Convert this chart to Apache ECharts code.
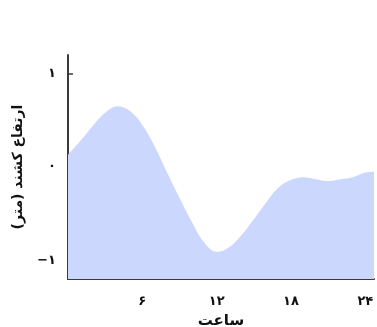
<!DOCTYPE html>
<html><head><meta charset="utf-8">
<script src="https://cdn.jsdelivr.net/npm/echarts@6/dist/echarts.min.js"></script>
<style>html,body{margin:0;padding:0;background:#fff}#c{width:377px;height:327px}</style>
</head><body><div id="c"></div>
<script>
const hours = [0,1,2,3,4,5,6,7,8,9,10,11,12,13,14,15,16,17,18,19,20,21,22,23,24,24.7];
const tideHeight = [0.13,0.28,0.44,0.58,0.65,0.60,0.45,0.22,-0.06,-0.33,-0.59,-0.81,-0.91,-0.86,-0.73,-0.56,-0.38,-0.22,-0.14,-0.11,-0.13,-0.15,-0.13,-0.11,-0.06,-0.05];
const xTicks = [6,12,18,24];
const yTicks = [-1,0,1];
const xName = 'ساعت';
const yName = 'ارتفاع کشند (متر)';

const fa = n => String(n).replace(/-/g,'\u2212').replace(/\d/g, d => '۰۱۲۳۴۵۶۷۸۹'[+d]);
const font = 'DejaVu Sans';
const chart = echarts.init(document.getElementById('c'));
chart.setOption({
  animation:false,
  grid:{left:68,right:3,top:55,bottom:48,containLabel:false,outerBoundsMode:'none'},
  xAxis:{type:'value',min:0,max:24.7,
    axisLine:{onZero:false,lineStyle:{color:'#3a3a3a',width:2}},
    axisTick:{show:false},
    splitLine:{show:false},
    axisLabel:{customValues:xTicks,formatter:v=>fa(v),color:'#111',fontSize:13,fontWeight:'bold',fontFamily:font,margin:16},
    name:xName,nameLocation:'middle',nameGap:35,nameTextStyle:{color:'#111',fontSize:15,fontWeight:'bold',fontFamily:font}},
  yAxis:{type:'value',min:-1.2,max:1.2,
    axisLine:{show:true,onZero:false,lineStyle:{color:'#3a3a3a',width:2}},
    axisTick:{show:true,inside:true,length:5,customValues:yTicks,lineStyle:{color:'#3a3a3a',width:1.5}},
    splitLine:{show:false},
    axisLabel:{customValues:yTicks,formatter:v=>fa(v),color:'#111',fontSize:13,fontWeight:'bold',fontFamily:font,margin:12},
    name:yName,nameLocation:'middle',nameGap:43,nameRotate:90,nameTextStyle:{color:'#111',fontSize:14,fontWeight:'bold',fontFamily:font}},
  series:[{type:'line',data:hours.map((h,i)=>[h,tideHeight[i]]),smooth:0.4,symbol:'none',
    lineStyle:{width:0},areaStyle:{color:'#cbd7fd',opacity:1,origin:'start'}}]
});
</script></body></html>
